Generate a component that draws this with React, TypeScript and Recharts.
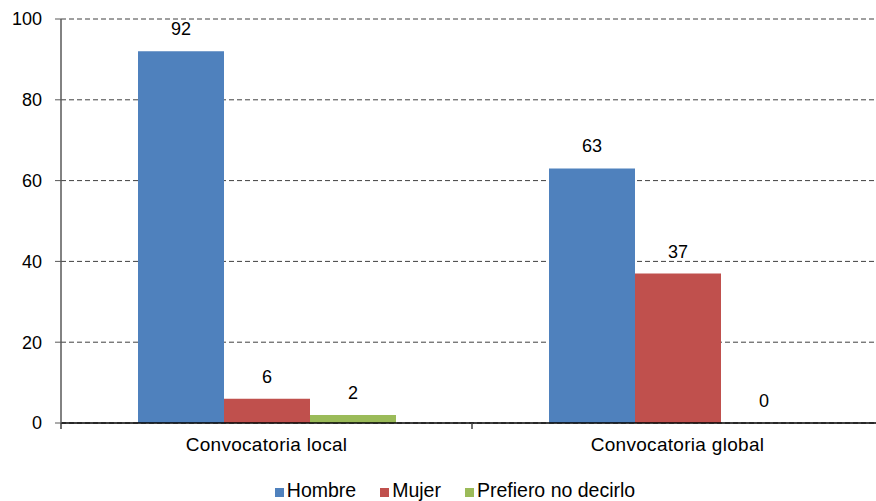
import React from "react";
import { BarChart, Bar, XAxis, YAxis, CartesianGrid, Legend, LabelList } from "recharts";

const categories = ["Convocatoria local", "Convocatoria global"];
const hombre = [92, 63];
const mujer = [6, 37];
const prefiero = [2, 0];
const yTicks = [0, 20, 40, 60, 80, 100];

const series = [
  { key: "hombre", name: "Hombre", color: "#4F81BD" },
  { key: "mujer", name: "Mujer", color: "#C0504D" },
  { key: "prefiero", name: "Prefiero no decirlo", color: "#9BBB59" },
];

const data = categories.map((c, i) => ({
  category: c,
  hombre: hombre[i],
  mujer: mujer[i],
  prefiero: prefiero[i],
}));

const FONT = "'Liberation Sans', Arial, sans-serif";
const TICK_MARGIN = 15;

const CategoryTick = (props: any) => {
  const { x, y, payload, index } = props;
  const half = payload && payload.offset ? payload.offset : 0;
  const axisY = y - TICK_MARGIN;
  return (
    <g>
      {index === 0 && (
        <line x1={x - half} x2={x - half} y1={axisY} y2={axisY + 6} stroke="#404040" strokeWidth={1.5} />
      )}
      <line x1={x + half} x2={x + half} y1={axisY} y2={axisY + 6} stroke="#404040" strokeWidth={1.5} />
      <text
        x={x}
        y={y}
        dy="0.71em"
        textAnchor="middle"
        fill="#000"
        fontSize={19}
        letterSpacing={0.3}
        fontFamily={FONT}
      >
        {payload.value}
      </text>
    </g>
  );
};

const renderLegend = (props: any) => {
  const { payload } = props;
  return (
    <div
      style={{
        display: "flex",
        justifyContent: "center",
        alignItems: "flex-end",
        height: 24,
        paddingLeft: 34,
        fontFamily: FONT,
        fontSize: 19.5,
        lineHeight: "22px",
        color: "#000",
      }}
    >
      {payload.map((entry: any, i: number) => (
        <div
          key={i}
          style={{
            display: "flex",
            alignItems: "center",
            marginRight: i < payload.length - 1 ? 24 : 0,
          }}
        >
          <span
            style={{
              display: "inline-block",
              width: 9,
              height: 9,
              background: entry.color,
              marginRight: 3,
              marginTop: 4,
            }}
          />
          <span>{entry.value}</span>
        </div>
      ))}
    </div>
  );
};

export default function App() {
  return (
    <div
      style={{
        position: "absolute",
        left: 0,
        top: 0,
        width: 876,
        height: 501,
        overflow: "hidden",
        background: "#fff",
      }}
    >
      <BarChart
        width={883}
        height={501}
        data={data}
        margin={{ top: 19, right: 0, bottom: 0, left: 0 }}
        barCategoryGap={77}
        barGap={0}
        style={{ fontFamily: FONT }}
      >
        <CartesianGrid
          vertical={false}
          stroke="#404040"
          strokeDasharray="5 3"
        />
        <XAxis
          dataKey="category"
          tickLine={false}
          tickSize={0}
          axisLine={{ stroke: "#000", strokeWidth: 1.5 }}
          tickMargin={TICK_MARGIN}
          height={54}
          tick={<CategoryTick />}
          interval={0}
        />
        <YAxis
          domain={[0, 100]}
          ticks={yTicks}
          width={61}
          tickSize={6}
          tickMargin={13}
          axisLine={{ stroke: "#595959", strokeWidth: 1.5 }}
          tickLine={{ stroke: "#595959" }}
          tick={{ fill: "#000", fontSize: 18 }}
        />
        <Legend
          verticalAlign="bottom"
          height={24}
          content={renderLegend}
          wrapperStyle={{ left: 0, width: 876, bottom: 0 }}
        />
        {series.map((s) => (
          <Bar
            key={s.key}
            dataKey={s.key}
            name={s.name}
            fill={s.color}
            minPointSize={0.01}
            isAnimationActive={false}
          >
            <LabelList
              dataKey={s.key}
              position="top"
              offset={16}
              fill="#000"
              fontSize={18}
            />
          </Bar>
        ))}
      </BarChart>
    </div>
  );
}
